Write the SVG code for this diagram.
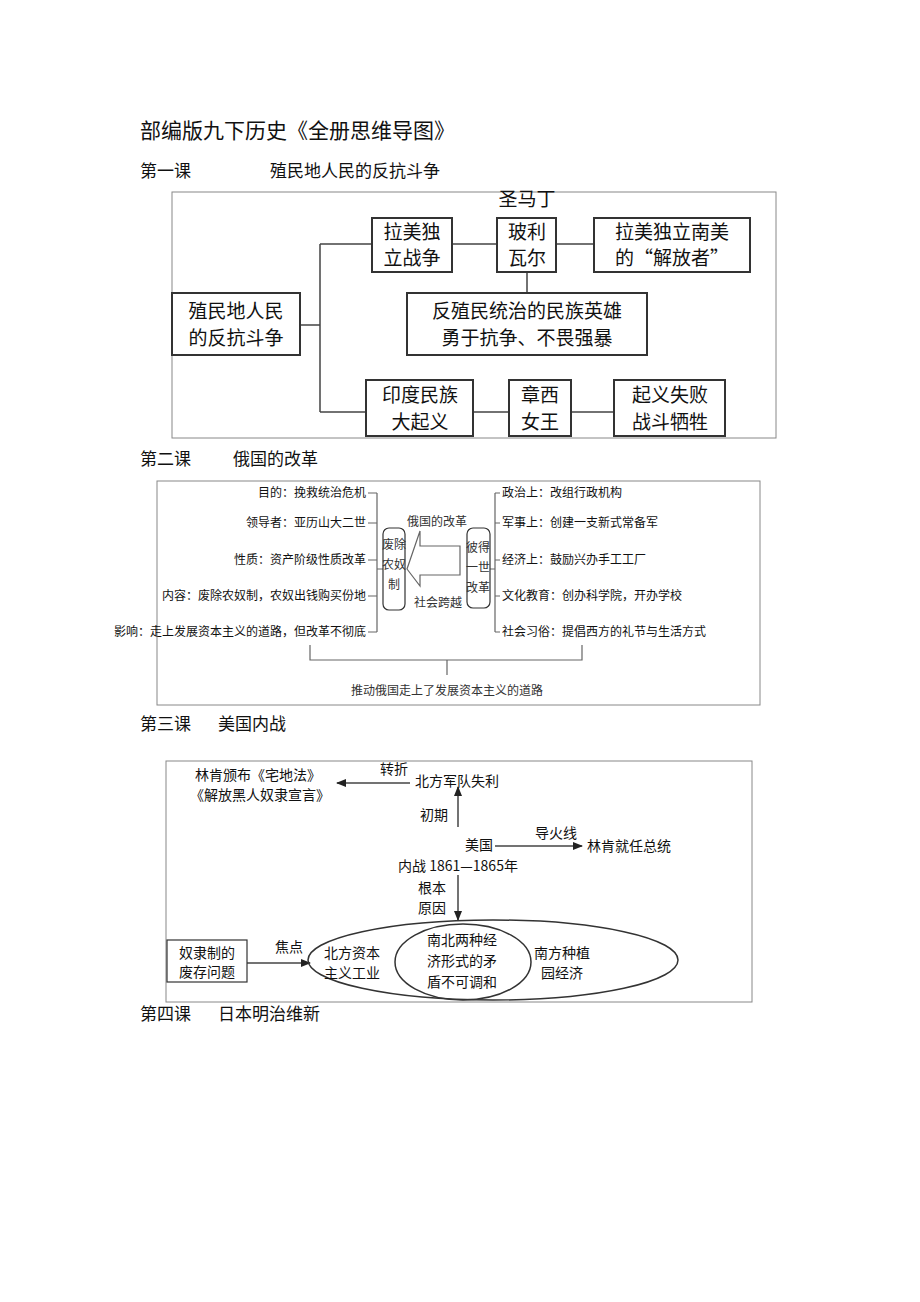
<svg xmlns="http://www.w3.org/2000/svg" width="920" height="1302" viewBox="0 0 920 1302">
<style>
text{font-family:"Noto Sans CJK SC","Liberation Serif",serif;fill:#111}
.h{font-size:17px}
.b{fill:#fff;stroke:#333;stroke-width:2}
.l{stroke:#444;stroke-width:1.5;fill:none}
.t1{font-size:19px;text-anchor:middle}
.t2{font-size:12px;fill:#333}
.t3{font-size:14px}
.f{fill:none;stroke:#888;stroke-width:1}
</style>
<defs><marker id="a" markerWidth="10" markerHeight="8" refX="9" refY="4" orient="auto" markerUnits="userSpaceOnUse"><path d="M0,0L10,4L0,8Z" fill="#222"/></marker></defs>
<rect width="920" height="1302" fill="#fff"/>
<text x="140" y="138" style="font-size:21px">部编版九下历史《全册思维导图》</text>
<text x="140" y="177" class="h">第一课</text><text x="270" y="177" class="h">殖民地人民的反抗斗争</text>
<text x="140" y="465" class="h">第二课</text><text x="233" y="465" class="h">俄国的改革</text>
<text x="140" y="730" class="h">第三课</text><text x="218" y="730" class="h">美国内战</text>
<text x="140" y="1020" class="h">第四课</text><text x="218" y="1020" class="h">日本明治维新</text>

<g id="lesson1">
<rect x="172" y="192" width="604" height="246" class="f"/>
<g id="connectors1" class="l">
<path d="M300,325H320M320,244V412M320,244H372M320,412H366M452,244H497M556,244H594M527,272V293M473,412H509M571,412H614"/>
</g>
<text x="527" y="206" class="t1">圣马丁</text>
<g id="n-lm"><rect x="372" y="218" width="80" height="54" class="b"/><text x="412" y="239" class="t1">拉美独</text><text x="412" y="265" class="t1">立战争</text></g>
<g id="n-bl"><rect x="497" y="218" width="59" height="54" class="b"/><text x="527" y="239" class="t1">玻利</text><text x="527" y="265" class="t1">瓦尔</text></g>
<g id="n-jf"><rect x="594" y="218" width="156" height="54" class="b"/><text x="672" y="239" class="t1">拉美独立南美</text><text x="672" y="265" class="t1">的“解放者”</text></g>
<g id="n-root"><rect x="172" y="293" width="128" height="62" class="b"/><text x="236" y="318" class="t1">殖民地人民</text><text x="236" y="345" class="t1">的反抗斗争</text></g>
<g id="n-yx"><rect x="407" y="293" width="240" height="62" class="b"/><text x="527" y="318" class="t1">反殖民统治的民族英雄</text><text x="527" y="345" class="t1">勇于抗争、不畏强暴</text></g>
<g id="n-yd"><rect x="366" y="380" width="107" height="56" class="b"/><text x="420" y="402" class="t1">印度民族</text><text x="420" y="429" class="t1">大起义</text></g>
<g id="n-zx"><rect x="509" y="380" width="62" height="56" class="b"/><text x="540" y="402" class="t1">章西</text><text x="540" y="429" class="t1">女王</text></g>
<g id="n-qy"><rect x="614" y="380" width="111" height="56" class="b"/><text x="670" y="402" class="t1">起义失败</text><text x="670" y="429" class="t1">战斗牺牲</text></g>
</g>

<g id="lesson2">
<rect x="157" y="481" width="603" height="224" class="f"/>
<g id="connectors2" class="l" style="stroke:#666;stroke-width:1.2">
<path d="M377,493V632M368,493H377M368,523H377M368,560H377M368,596H377M368,632H377M377,569H383"/>
<path d="M495,493V632M495,493H500M495,523H500M495,560H500M495,596H500M495,632H500M490,569H495"/>
<path d="M310,645V660H582V645M447,660V675"/>
<path d="M460,546V575H420V586L407,569L420,531V546Z" fill="#fff"/>
</g>
<g class="t2" text-anchor="end">
<text x="366" y="497">目的：挽救统治危机</text>
<text x="366" y="527">领导者：亚历山大二世</text>
<text x="366" y="564">性质：资产阶级性质改革</text>
<text x="366" y="600">内容：废除农奴制，农奴出钱购买份地</text>
<text x="366" y="636">影响：走上发展资本主义的道路，但改革不彻底</text>
</g>
<g class="t2">
<text x="502" y="497">政治上：改组行政机构</text>
<text x="502" y="527">军事上：创建一支新式常备军</text>
<text x="502" y="564">经济上：鼓励兴办手工工厂</text>
<text x="502" y="600">文化教育：创办科学院，开办学校</text>
<text x="502" y="636">社会习俗：提倡西方的礼节与生活方式</text>
</g>
<g id="n-fc"><rect x="383" y="528" width="22" height="82" rx="6" class="b" style="stroke-width:1.2"/>
<text x="394" y="549" class="t2" text-anchor="middle">废除</text><text x="394" y="569" class="t2" text-anchor="middle">农奴</text><text x="394" y="589" class="t2" text-anchor="middle">制</text></g>
<g id="n-bd"><rect x="467" y="528" width="23" height="80" rx="6" class="b" style="stroke-width:1.2"/>
<text x="478" y="552" class="t2" text-anchor="middle">彼得</text><text x="478" y="572" class="t2" text-anchor="middle">一世</text><text x="478" y="592" class="t2" text-anchor="middle">改革</text></g>
<text x="437" y="526" class="t2" text-anchor="middle">俄国的改革</text>
<text x="438" y="607" class="t2" text-anchor="middle">社会跨越</text>
<text x="447" y="695" class="t2" text-anchor="middle">推动俄国走上了发展资本主义的道路</text>
</g>

<g id="lesson3">
<rect x="166" y="761" width="586" height="241" class="f"/>
<g id="connectors3" class="l">
<path d="M410,783H337" marker-end="url(#a)"/>
<path d="M458,827V787" marker-end="url(#a)"/>
<path d="M495,846H582" marker-end="url(#a)"/>
<path d="M458,875V920" marker-end="url(#a)"/>
<path d="M247,963H310" marker-end="url(#a)"/>
</g>
<text x="195" y="780" class="t3">林肯颁布《宅地法》</text>
<text x="190" y="800" class="t3">《解放黑人奴隶宣言》</text>
<text x="380" y="774" class="t3">转折</text>
<text x="415" y="786" class="t3">北方军队失利</text>
<text x="420" y="820" class="t3">初期</text>
<text x="479" y="850" class="t3" text-anchor="middle">美国</text>
<text x="458" y="871" class="t3" text-anchor="middle">内战 1861—1865年</text>
<text x="535" y="838" class="t3">导火线</text>
<text x="587" y="851" class="t3">林肯就任总统</text>
<text x="418" y="893" class="t3">根本</text>
<text x="418" y="913" class="t3">原因</text>
<text x="275" y="952" class="t3">焦点</text>
<g id="n-nl"><rect x="167" y="940" width="80" height="42" class="b" style="stroke-width:1.2"/>
<text x="207" y="958" class="t3" text-anchor="middle">奴隶制的</text><text x="207" y="977" class="t3" text-anchor="middle">废存问题</text></g>
<g id="n-ell">
<ellipse cx="493" cy="960" rx="185" ry="40" fill="none" stroke="#333" stroke-width="1.5"/>
<ellipse cx="463" cy="962" rx="68" ry="38" fill="none" stroke="#333" stroke-width="1.5"/>
<text x="352" y="958" class="t3" text-anchor="middle">北方资本</text><text x="352" y="978" class="t3" text-anchor="middle">主义工业</text>
<text x="462" y="945" class="t3" text-anchor="middle">南北两种经</text><text x="462" y="966" class="t3" text-anchor="middle">济形式的矛</text><text x="462" y="987" class="t3" text-anchor="middle">盾不可调和</text>
<text x="562" y="958" class="t3" text-anchor="middle">南方种植</text><text x="562" y="978" class="t3" text-anchor="middle">园经济</text>
</g>
</g>
</svg>
